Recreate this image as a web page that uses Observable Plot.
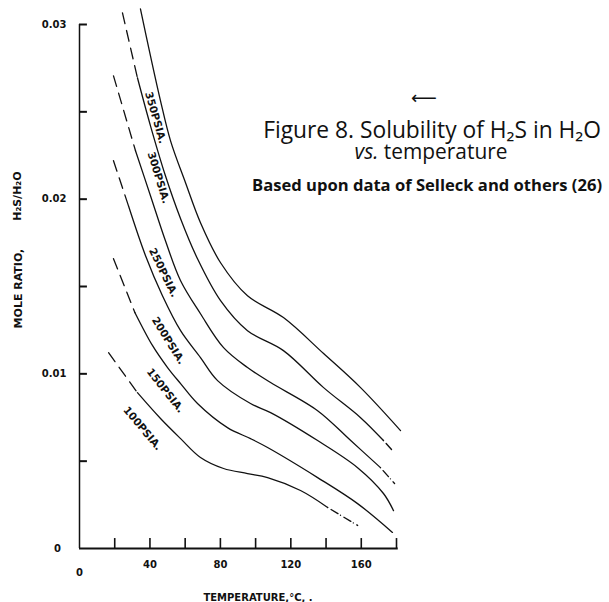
<!DOCTYPE html>
<html><head><meta charset="utf-8">
<script src="https://cdn.jsdelivr.net/npm/d3@7"></script>
<script src="https://cdn.jsdelivr.net/npm/@observablehq/plot@0.6"></script>
<style>
body{margin:0;background:#fff}
#wrap{position:relative;width:609px;height:602px;overflow:hidden}
#wrap svg{position:absolute;left:0;top:0}
</style>
</head><body><div id="wrap"></div>
<script>
// Temperature (°C) and mole ratio H2S/H2O for each pressure curve
const t350 = [34.6, 40.3, 46.0, 51.7, 60.2, 68.7, 80.1, 95.4, 115.8, 138.6, 159.6, 182.3];
const r350 = [0.03089, 0.02820, 0.02563, 0.02334, 0.02094, 0.01865, 0.01636, 0.01447, 0.01322, 0.01116, 0.00921, 0.00675];
const t300 = [24.4, 32.9, 40.3, 48.8, 57.4, 67.0, 80.1, 95.4, 115.8, 138.6, 159.6, 172.6, 177.7];
const r300 = [0.03066, 0.02695, 0.02420, 0.02134, 0.01888, 0.01659, 0.01419, 0.01247, 0.01133, 0.00921, 0.00749, 0.00618, 0.00561];
const t250 = [19.3, 31.8, 40.3, 48.8, 57.4, 68.7, 81.8, 95.4, 108.5, 135.2, 154.0, 170.9, 178.9];
const r250 = [0.02706, 0.02277, 0.02020, 0.01762, 0.01533, 0.01344, 0.01150, 0.01036, 0.00950, 0.00789, 0.00618, 0.00463, 0.00372];
const t200 = [19.3, 27.8, 37.5, 47.1, 57.4, 68.7, 78.4, 97.1, 108.5, 135.2, 157.9, 172.6, 178.3];
const r200 = [0.02220, 0.01962, 0.01676, 0.01447, 0.01247, 0.01093, 0.00961, 0.00830, 0.00778, 0.00618, 0.00463, 0.00315, 0.00217];
const t150 = [19.3, 31.5, 41.5, 50.0, 57.4, 67.0, 84.0, 97.1, 106.8, 135.2, 157.9, 177.7];
const r150 = [0.01659, 0.01350, 0.01161, 0.01036, 0.00944, 0.00830, 0.00692, 0.00629, 0.00578, 0.00406, 0.00257, 0.00092];
const t100 = [16.5, 32.9, 46.0, 57.4, 68.7, 81.8, 95.4, 106.8, 125.5, 140.9, 157.9];
const r100 = [0.01121, 0.00892, 0.00744, 0.00629, 0.00521, 0.00458, 0.00429, 0.00406, 0.00332, 0.00235, 0.00132];

// number of points in the dashed (extrapolated) start / end of each curve
const pressures = ["350", "300", "250", "200", "150", "100"];
const headDashed = [0, 2, 2, 2, 2, 2];
const tailDashed = [0, 2, 2, 0, 0, 2];

// curve labels
const labelText = ["350PSIA.", "300PSIA.", "250PSIA.", "200PSIA.", "150PSIA.", "100PSIA."];
const labelT = [43.2, 44.9, 47.7, 50.5, 48.8, 35.8];
const labelR = [0.02466, 0.02122, 0.01579, 0.01190, 0.00904, 0.00687];
const labelAngle = [74, 73, 64, 58, 52, 50];

// axes
const xTicks = [20, 40, 60, 80, 100, 120, 140, 160, 180];
const xTickLabels = [40, 80, 120, 160];
const yTicks = [0.005, 0.01, 0.015, 0.02, 0.025, 0.03];
const yTickLabels = [0.01, 0.02, 0.03];

const temps = [t350, t300, t250, t200, t150, t100];
const ratios = [r350, r300, r250, r200, r150, r100];

const solid = [], heads = [], tails = [];
pressures.forEach((p, k) => {
  const pts = temps[k].map((t, i) => ({t, r: ratios[k][i], p}));
  const n = pts.length, h = headDashed[k], tl = tailDashed[k];
  const s0 = h > 0 ? h - 1 : 0;
  const s1 = tl > 0 ? n - tl : n - 1;
  pts.slice(s0, s1 + 1).forEach(d => solid.push(d));
  if (h > 0) pts.slice(0, h).forEach(d => heads.push(d));
  if (tl > 0) pts.slice(n - tl).forEach(d => tails.push(d));
});
const labels = labelText.map((s, i) => ({s, t: labelT[i], r: labelR[i], a: labelAngle[i]}));

const ink = "#111";
const chart = Plot.plot({
  width: 609, height: 602,
  marginLeft: 79, marginRight: 213, marginTop: 24, marginBottom: 54,
  x: {domain: [0, 180], axis: null},
  y: {domain: [0, 0.03], axis: null},
  style: {fontFamily: "DejaVu Sans", background: "transparent", overflow: "visible", color: ink},
  marks: [
    Plot.ruleX([0], {y1: 0, y2: 0.03, stroke: ink, strokeWidth: 1.5}),
    Plot.ruleY([0], {x1: 0, x2: 181, stroke: ink, strokeWidth: 2}),
    Plot.ruleY(yTicks, {y: d => d, x1: 0, x2: 4.5, stroke: ink, strokeWidth: 2}),
    Plot.ruleX(xTicks, {x: d => d, y1: 0, y2: 0.00057, stroke: ink, strokeWidth: 1.6}),
    Plot.text(yTickLabels, {x: 0, y: d => d, text: d => d.toFixed(2), dx: -13, textAnchor: "end", fontSize: 10, fontWeight: "bold", fill: ink}),
    Plot.text([0], {x: 0, y: 0, text: () => "0", dx: -22, fontSize: 10, fontWeight: "bold", fill: ink}),
    Plot.text(xTickLabels, {x: d => d, y: 0, text: d => String(d), dy: 16, fontSize: 10, fontWeight: "bold", fill: ink}),
    Plot.text([0], {x: 0, y: 0, text: () => "0", dy: 24, fontSize: 10, fontWeight: "bold", fill: ink}),
    Plot.line(solid, {x: "t", y: "r", z: "p", stroke: ink, strokeWidth: 1.3, curve: "catmull-rom"}),
    Plot.line(heads, {x: "t", y: "r", z: "p", stroke: ink, strokeWidth: 1.3, strokeDasharray: "11,7"}),
    Plot.line(tails, {x: "t", y: "r", z: "p", stroke: ink, strokeWidth: 1.4, strokeDasharray: "0,4,8,3"}),
    Plot.text(labels, {x: "t", y: "r", text: "s", rotate: "a", fontSize: 10.5, fontWeight: "bold", fill: ink}),
    Plot.text(["TEMPERATURE,°C, ."], {frameAnchor: "bottom", dx: 20, dy: 49, lineAnchor: "middle", fontSize: 10, fontWeight: "bold", fill: ink}),
    Plot.text(["MOLE RATIO,"], {frameAnchor: "left", y: 0.0126, dx: -61, rotate: -90, fontSize: 11, fontWeight: "bold", fill: ink}),
    Plot.text(["H₂S/H₂O"], {frameAnchor: "left", y: 0.01876, dx: -62, rotate: -90, fontSize: 11, fontWeight: "bold", fill: ink})
  ]
});
document.getElementById("wrap").appendChild(chart);

// title block
const ns = "http://www.w3.org/2000/svg";
const over = document.createElementNS(ns, "svg");
over.setAttribute("width", 609); over.setAttribute("height", 602);
over.innerHTML = `
<text x="424" y="104" font-family="DejaVu Sans" font-size="18" text-anchor="middle" fill="${ink}">⟵</text>
<text class="fit" data-w="338" x="601" y="138" font-family="Open Sans" font-weight="500" font-size="20" text-anchor="end" fill="${ink}">Figure 8. Solubility of H₂S in H₂O</text>
<text class="fit" data-w="153" x="431" y="159" font-family="Open Sans" font-weight="500" font-size="20" text-anchor="middle" fill="${ink}"><tspan font-style="italic">vs.</tspan> temperature</text>
<text class="fit" data-w="350" x="602" y="191" font-family="Open Sans" font-weight="bold" font-size="15" text-anchor="end" fill="${ink}">Based upon data of Selleck and others (26)</text>`;
document.getElementById("wrap").appendChild(over);
over.querySelectorAll("text.fit").forEach(el => {
  const w = +el.getAttribute("data-w");
  const len = el.getComputedTextLength();
  if (len > 0) el.setAttribute("font-size", (+el.getAttribute("font-size") * w / len).toFixed(2));
});
</script>
</body></html>
